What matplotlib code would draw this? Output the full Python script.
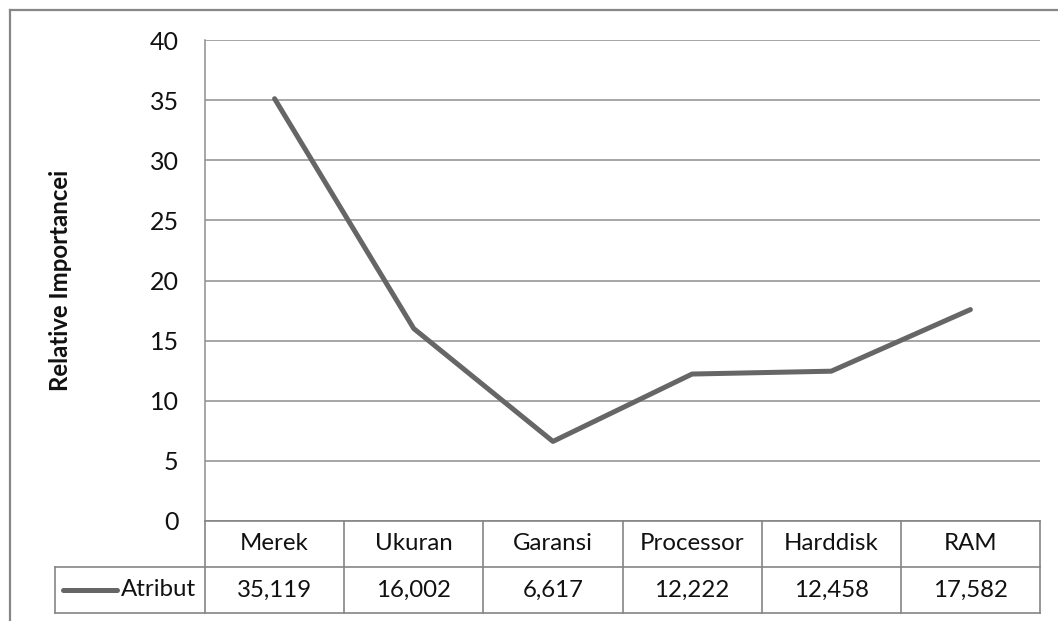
import matplotlib
matplotlib.use("Agg")
import matplotlib.pyplot as plt
from matplotlib.lines import Line2D

categories = ["Merek", "Ukuran", "Garansi", "Processor", "Harddisk", "RAM"]
values = [35.119, 16.002, 6.617, 12.222, 12.458, 17.582]
series_name = "Atribut"
yticks = [0, 5, 10, 15, 20, 25, 30, 35, 40]
ylabel = "Relative Importancei"

W, H = 1058, 621
plt.rcParams['font.family'] = ['Lato', 'DejaVu Sans']
fig = plt.figure(figsize=(W / 100, H / 100), dpi=100)

def fx(px):
    return px / W

def fy(py):
    return 1 - py / H

line_color = "#666666"
grid_color = "#8e8e8e"
fs = 17.3
fs_tick = 18
text_color = "#111111"

# outer frame
fig.add_artist(Line2D([fx(10), fx(10)], [fy(10), fy(H + 5)], color="#878787", lw=1.6))
fig.add_artist(Line2D([fx(10), fx(W + 5)], [fy(10), fy(10)], color="#878787", lw=1.6))

left, right, top, bottom = 205, 1040, 40, 521
ax = fig.add_axes([fx(left), fy(bottom), fx(right - left), fy(top) - fy(bottom)])
n = len(categories)
x = list(range(n))
ax.set_xlim(-0.5, n - 0.5)
ax.set_ylim(0, 40)
ax.set_yticks(yticks)
ax.set_yticklabels([str(t) for t in yticks], fontsize=fs_tick, color=text_color)
ax.tick_params(axis='y', length=0, pad=19)
ax.set_xticks([])
for s in ["top", "right", "bottom"]:
    ax.spines[s].set_visible(False)
ax.spines["left"].set_color(grid_color)
ax.spines["left"].set_linewidth(1.1)
ax.yaxis.grid(True, color=grid_color, linewidth=1.1)
ax.set_axisbelow(True)
ax.plot(x, values, color=line_color, lw=3.6, solid_capstyle='round', solid_joinstyle='round', zorder=3)

fig.text(fx(61), fy((top + bottom) / 2), ylabel, rotation=90, ha='center', va='center',
         fontsize=fs, fontweight='bold', color=text_color)

# data table
t_top, t_mid, t_bot = 521, 567, 613
leg_left = 55
tax = fig.add_axes([fx(left), fy(t_bot), fx(right - left), fy(t_top) - fy(t_bot)])
tax.set_xlim(-0.5, n - 0.5)
tax.set_ylim(0, 2)
tax.axis('off')
col_w = (right - left) / n
leg_x0 = -0.5 - (left - leg_left) / col_w
tc = "#858585"
tlw = 1.2
tax.plot([-0.5, n - 0.5], [2, 2], color=tc, lw=tlw, clip_on=False)
tax.plot([leg_x0, n - 0.5], [1, 1], color=tc, lw=tlw, clip_on=False)
tax.plot([leg_x0, n - 0.5], [0, 0], color=tc, lw=tlw, clip_on=False)
for i in range(n + 1):
    tax.plot([i - 0.5, i - 0.5], [0, 2], color=tc, lw=tlw, clip_on=False)
tax.plot([leg_x0, leg_x0], [0, 1], color=tc, lw=tlw, clip_on=False)
for i, (c, v) in enumerate(zip(categories, values)):
    tax.text(i, 1.5, c, ha='center', va='center', fontsize=fs, color=text_color)
    tax.text(i, 0.5, f"{v:.3f}".replace('.', ','), ha='center', va='center', fontsize=fs,
             color=text_color)
lx0 = leg_x0 + (63 - leg_left) / col_w
lx1 = leg_x0 + (117 - leg_left) / col_w
tax.plot([lx0, lx1], [0.5, 0.5], color=line_color, lw=3.6, solid_capstyle='round', clip_on=False)
tax.text(-0.5 - 9 / col_w, 0.5, series_name, ha='right', va='center', fontsize=fs, color=text_color)

fig.savefig("out.png", dpi=100, facecolor="white")
